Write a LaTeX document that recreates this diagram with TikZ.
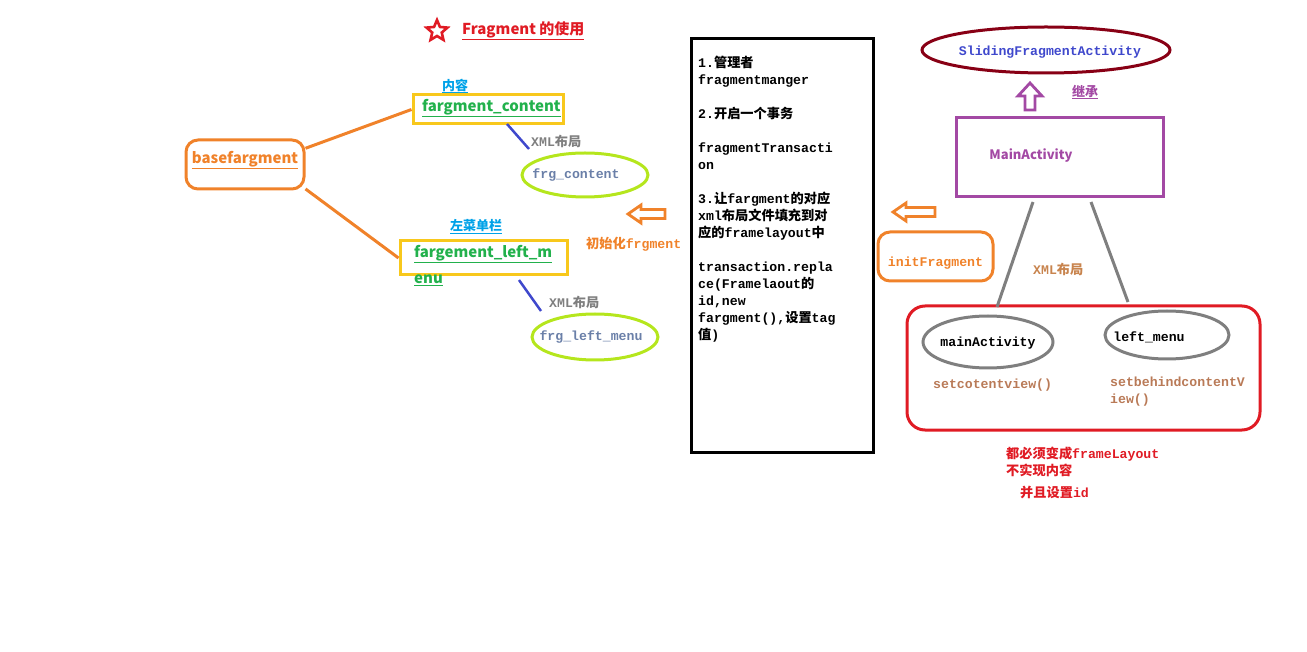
\documentclass[tikz,border=0pt]{standalone}
\usepackage{fontspec}
\setmainfont{Noto Sans CJK SC}
\setmonofont{Liberation Mono}
\newfontfamily\cjkf{Noto Sans CJK SC}
\newcommand\zh[1]{{\cjkf\bfseries #1}}
\usetikzlibrary{shapes.geometric}
\definecolor{orng}{HTML}{F0822A}
\definecolor{yel}{HTML}{F8C81C}
\definecolor{grn}{HTML}{22B14C}
\definecolor{cyn}{HTML}{00A2E8}
\definecolor{limec}{HTML}{B5E61D}
\definecolor{slate}{HTML}{6A7FA8}
\definecolor{blu}{HTML}{3F48CC}
\definecolor{gry}{HTML}{7F7F7F}
\definecolor{maroonc}{HTML}{880015}
\definecolor{purp}{HTML}{A349A4}
\definecolor{redc}{HTML}{E01B24}
\definecolor{brn}{HTML}{B97A57}
\definecolor{brn2}{HTML}{C8844E}
\tikzset{
  sanslbl/.style={inner sep=0pt, font=\fontsize{15}{17}\selectfont\bfseries},
  monolbl/.style={inner sep=0pt, font=\fontsize{13.2}{17}\selectfont\ttfamily\bfseries},
  ell/.style={ellipse, draw, line width=3pt, inner sep=0pt},
  hollow/.style={draw=#1, line width=2.8pt, fill=white, line join=miter},
}
\begin{document}
\begin{tikzpicture}[x=1pt,y=-1pt]
\useasboundingbox (0,0) rectangle (1307,652);
% title
\node[star, star points=5, star point ratio=2.2, draw=redc, line width=2.6pt, minimum size=22pt, inner sep=0pt] (star) at (437,31) {};
\node[sanslbl, text=redc, anchor=west] (title) at (462,31) {\underline{Fragment 的使用}};
% left part
\node[draw=orng, line width=3pt, rounded corners=12pt, minimum width=118pt, minimum height=49pt, inner sep=0pt] (base) at (245,164.5) {};
\node[sanslbl, text=orng] (basetxt) at (245,160) {\underline{basefargment}};
\node[draw=yel, line width=3pt, minimum width=150pt, minimum height=29pt, inner sep=0pt] (content) at (488,109.5) {};
\node[sanslbl, text=grn, anchor=west] (contenttxt) at (422,108) {\underline{fargment\_content}};
\node[sanslbl, text=cyn, font=\fontsize{13}{15}\selectfont\bfseries] (neirong) at (455,86) {\underline{内容}};
\node[draw=yel, line width=3pt, minimum width=167pt, minimum height=34pt, inner sep=0pt] (leftm) at (483.5,258) {};
\node[sanslbl, text=grn, anchor=west] (lefttxt1) at (414,254) {\underline{fargement\_left\_m}};
\node[sanslbl, text=grn, anchor=west] (lefttxt2) at (414,280) {\underline{enu}};
\node[sanslbl, text=cyn, font=\fontsize{13}{15}\selectfont\bfseries] (zuocai) at (476,227) {\underline{左菜单栏}};
\draw[orng, line width=3pt] (base.15) -- (content.west);
\draw[orng, line width=3pt] (base.-22) -- (leftm.west);
\node[ell, draw=limec, minimum width=126pt, minimum height=44pt] (frgc) at (585,175) {};
\node[monolbl, text=slate] (frgctxt) at (576,175) {frg\_content};
\node[ell, draw=limec, minimum width=126pt, minimum height=46pt] (frgl) at (595,337) {};
\node[monolbl, text=slate] (frgltxt) at (591,337) {frg\_left\_menu};
\coordinate (b1s) at (507,124);
\coordinate (b1e) at (529,149);
\coordinate (b2s) at (519,280);
\coordinate (b2e) at (541,311);
\draw[blu, line width=2.5pt] (b1s) -- (b1e);
\draw[blu, line width=2.5pt] (b2s) -- (b2e);
\node[monolbl, text=gry, anchor=west] (xml1) at (531,141) {XML\zh{布局}};
\node[monolbl, text=gry, anchor=west] (xml2) at (549,302) {XML\zh{布局}};
% left arrow 1
\draw[hollow=orng] (628,214) -- (641,205) -- (641,209.5) -- (665,209.5) -- (665,218.5) -- (641,218.5) -- (641,223) -- cycle;
\node[monolbl, text=orng, anchor=west] (initcn) at (586,244) {\zh{初始化}frgment};
% middle box
\node[draw=black, line width=3pt, minimum width=182pt, minimum height=413pt, inner sep=0pt] (mainbox) at (782,245.5) {};
\node[monolbl, text=black, anchor=north west, align=left] (boxtxt) at (698,56) {%
1.\zh{管理者}\\
fragmentmanger\\[17pt]
2.\zh{开启一个事务}\\[17pt]
fragmentTransacti\\
on\\[17pt]
3.\zh{让}fargment\zh{的对应}\\
xml\zh{布局文件填充到对}\\
\zh{应的}framelayout\zh{中}\\[17pt]
transaction.repla\\
ce(Framelaout\zh{的}\\
id,new\\
fargment(),\zh{设置}tag\\
\zh{值})};
% right arrow 2
\draw[hollow=orng] (893,212) -- (906,203) -- (906,207.5) -- (935,207.5) -- (935,216.5) -- (906,216.5) -- (906,221) -- cycle;
\node[draw=orng, line width=3pt, rounded corners=12pt, minimum width=115pt, minimum height=49pt, inner sep=0pt] (initf) at (935.5,256.5) {};
\node[monolbl, text=orng] (initftxt) at (935.5,263) {initFragment};
% right part
\node[ell, draw=maroonc, minimum width=248pt, minimum height=46pt] (slide) at (1046,50) {};
\node[monolbl, text=blu] (slidetxt) at (1050,52) {SlidingFragmentActivity};
\draw[hollow=purp] (1030,83) -- (1042,96) -- (1035,96) -- (1035,110) -- (1025,110) -- (1025,96) -- (1018,96) -- cycle;
\node[sanslbl, text=purp, font=\fontsize{13}{15}\selectfont\bfseries] (jicheng) at (1085,92) {\underline{继承}};
\node[draw=purp, line width=3pt, minimum width=207pt, minimum height=79pt, inner sep=0pt] (mainact) at (1059.5,157.5) {};
\node[sanslbl, text=purp, font=\fontsize{13}{15}\selectfont\bfseries] (mainacttxt) at (1031,156) {MainActivity};
\node[draw=redc, line width=3pt, rounded corners=18pt, minimum width=353pt, minimum height=124pt, inner sep=0pt] (redbox) at (1083.5,368) {};
\node[ell, draw=gry, minimum width=130pt, minimum height=52pt] (mainell) at (988,342) {};
\node[monolbl, text=black] (mainelltxt) at (988,343) {mainActivity};
\node[ell, draw=gry, minimum width=124pt, minimum height=48pt] (leftell) at (1167,335) {};
\node[monolbl, text=black] (lefttxt) at (1149,337) {left\_menu};
\coordinate (g1s) at (1033,202);
\coordinate (g1e) at (997,307);
\coordinate (g2s) at (1091,202);
\coordinate (g2e) at (1128,302);
\draw[gry, line width=3pt] (g1s) -- (g1e);
\draw[gry, line width=3pt] (g2s) -- (g2e);
\node[monolbl, text=brn2, anchor=west] (xml3) at (1033,269) {XML\zh{布局}};
\node[monolbl, text=brn, anchor=west] (setc) at (933,385) {setcotentview()};
\node[monolbl, text=brn, anchor=north west, align=left] (setb) at (1110,377) {setbehindcontentV\\iew()};
\node[monolbl, text=redc, anchor=north west, align=left] (note) at (1006,447) {\zh{都必须变成}frameLayout\\\zh{不实现内容}};
\node[monolbl, text=redc, anchor=west] (note2) at (1020,492) {\zh{并且设置}id};
\end{tikzpicture}
\end{document}
